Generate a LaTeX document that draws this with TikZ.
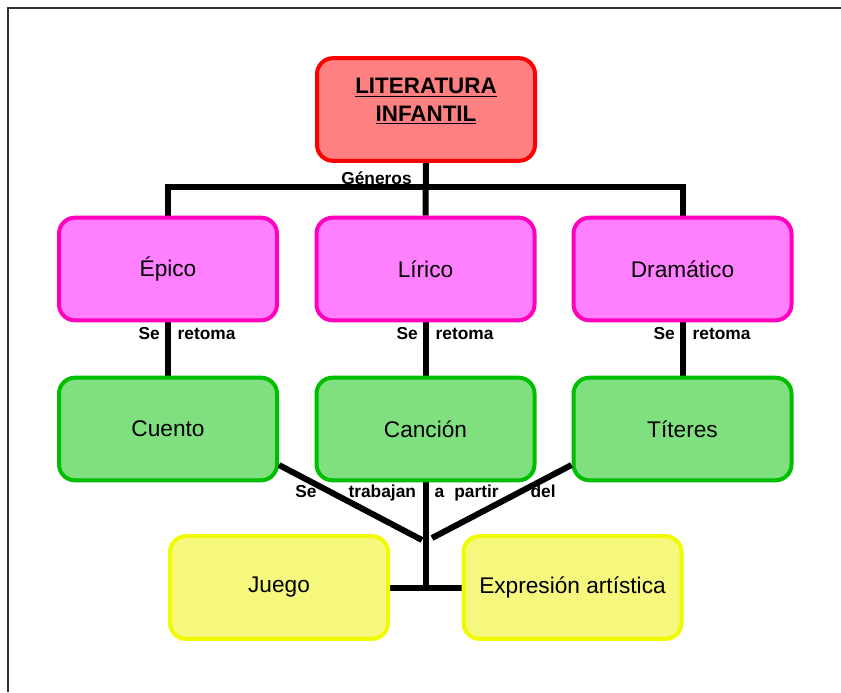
\documentclass[tikz,border=0pt]{standalone}
\usepackage{fontspec}
\usetikzlibrary{backgrounds}
\setmainfont{Liberation Sans}
\definecolor{rojo}{RGB}{255,0,0}
\definecolor{rojoc}{RGB}{255,128,128}
\definecolor{rosa}{RGB}{255,0,190}
\definecolor{rosac}{RGB}{255,128,255}
\definecolor{verde}{RGB}{0,190,0}
\definecolor{verdec}{RGB}{128,224,128}
\definecolor{amarillo}{RGB}{240,250,0}
\definecolor{amarilloc}{RGB}{245,248,125}

\begin{document}
\begin{tikzpicture}[x=0.75pt,y=-0.75pt,
	caja/.style={rectangle, rounded corners=12pt, line width=3pt, minimum width=163.5pt, minimum height=77pt, font=\fontsize{17}{20}\selectfont},
	linea/.style={line width=4.5pt},
	etiq/.style={font=\fontsize{13}{15}\selectfont\bfseries, inner sep=0pt}]
			\useasboundingbox (0,0) rectangle (841,692);
			%Marco
			\draw[line width=1.5pt, black!80] (8,692) -- (8,8) -- (841,8);
			
			%Titulo
			\node[caja, draw=rojo, fill=rojoc] (lit) at (426,109.5) {};
			\node[font=\fontsize{16.8}{21}\selectfont\bfseries, align=center] (tit) at ([yshift=6pt]lit.center) {\underline{LITERATURA}\\\underline{INFANTIL}};
			
			%Generos
			\node[caja, draw=rosa, fill=rosac] (epi) at (168,269) {Épico};
			\node[caja, draw=rosa, fill=rosac] (lir) at (425.5,269) {Lírico};
			\node[caja, draw=rosa, fill=rosac] (dra) at (682.5,269) {Dramático};
			
			%Se retoma
			\node[caja, draw=verde, fill=verdec] (cue) at (168,429) {Cuento};
			\node[caja, draw=verde, fill=verdec] (can) at (425.5,429) {Canción};
			\node[caja, draw=verde, fill=verdec] (tit2) at (682.5,429) {Títeres};
			
			%Abajo
			\node[caja, draw=amarillo, fill=amarilloc] (jue) at (279,587.5) {Juego};
			\node[caja, draw=amarillo, fill=amarilloc] (exp) at (572.5,587.5) {Expresión artística};
			
			%Lineas
			\begin{scope}[on background layer]
				\coordinate (barra) at (426,187);
				\draw[linea] (lit.south) -- (lir.north);
				\draw[linea] (epi.north) |- (barra) -| (dra.north);
				\draw[linea] (epi.south) -- (cue.north);
				\draw[linea] (lir.south) -- (can.north);
				\draw[linea] (dra.south) -- (tit2.north);
				\draw[linea] (can.south) -- (jue.east -| can.south);
				\draw[linea] (jue.east) -- (exp.west);
			\end{scope}
			\coordinate (n1) at (422,540);
			\coordinate (n2) at (432,538);
			\draw[linea] ([yshift=13pt]cue.south east) -- (n1);
			\draw[linea] ([yshift=13pt]tit2.south west) -- (n2);
			
			%Etiquetas
			\node[etiq] (gen) at (376.5,178) {Géneros};
			\node[etiq] (ret1) at (187,334) {Se\hspace{13.5pt}retoma};
			\node[etiq] (ret2) at (445,334) {Se\hspace{13.5pt}retoma};
			\node[etiq] (ret3) at (702,334) {Se\hspace{13.5pt}retoma};
			\node[etiq] (trab) at (425.5,493) {Se\hspace{24pt}trabajan\hspace{14pt}a\hspace{7.5pt}partir\hspace{24pt}del};
		\end{tikzpicture}
\end{document}
